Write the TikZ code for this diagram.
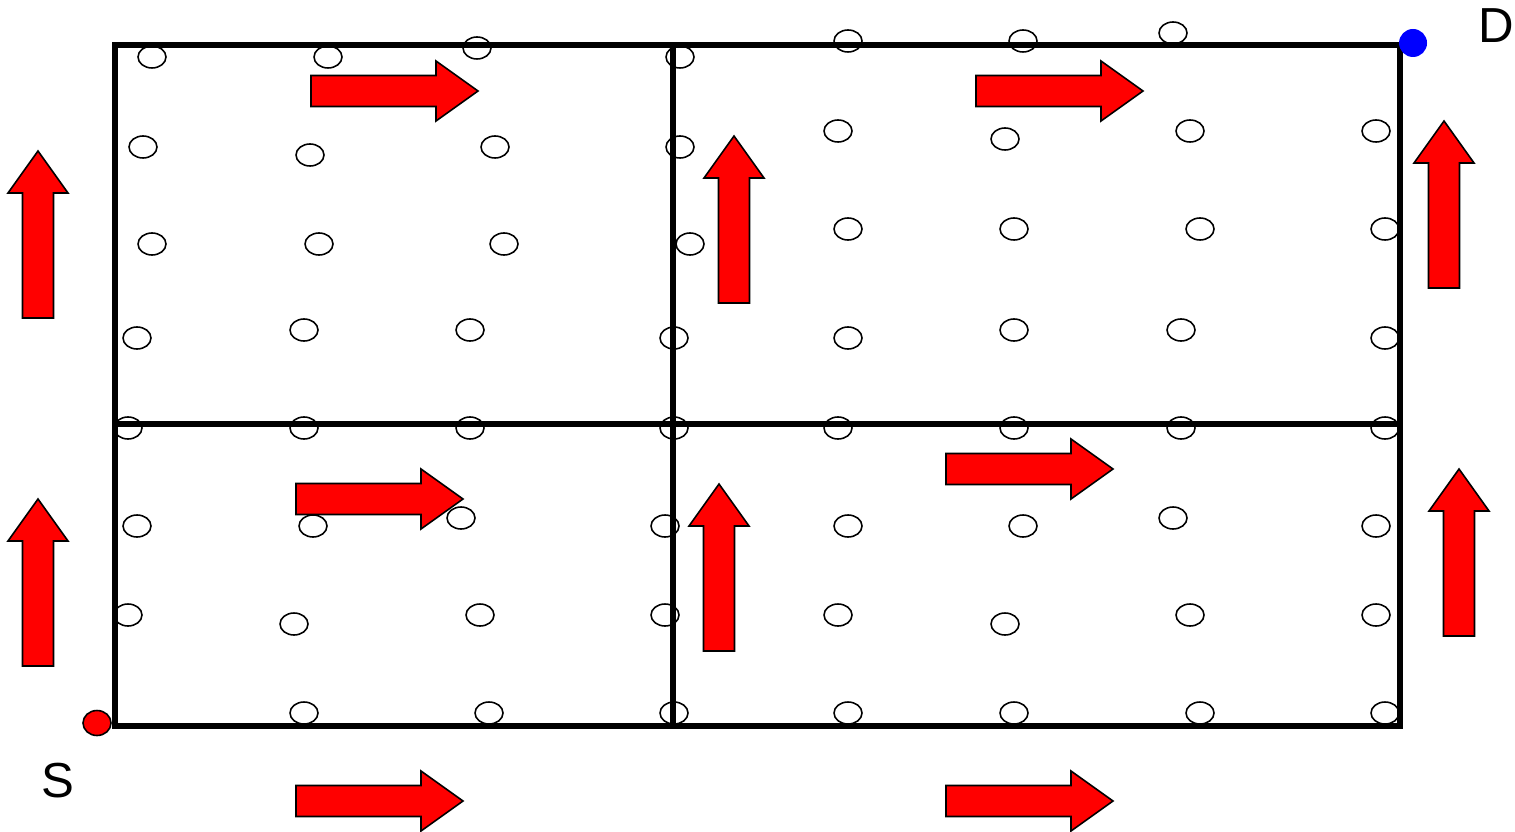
\documentclass[tikz,border=0pt]{standalone}
\usepackage{fontspec}
\setmainfont{Liberation Sans}
\usetikzlibrary{calc}

% block arrow pointing right, tail centre at #1, turned by #2
\newcommand{\blockarrow}[2]{%
  \draw[flow, shift={#1}, rotate=#2]
    (0,-15.5) -- (125,-15.5) -- (125,-30) -- (167,0) -- (125,30)
    -- (125,15.5) -- (0,15.5) -- cycle;}

\begin{document}
\begin{tikzpicture}[x=0.1mm, y=-0.1mm,
  wall/.style={line width=1.6pt, line cap=rect},
  sensor/.style={draw=black, line width=0.45pt},
  flow/.style={draw=black, fill=red, line width=0.45pt, line join=miter},
  lbl/.style={font=\fontsize{14}{16}\selectfont, inner sep=0pt}]
\useasboundingbox (0,0) rectangle (1515,831);

% grid of cells
\coordinate (sw) at (115,726);
\coordinate (ne) at (1400,45);
\coordinate (mid) at (673,424);
\draw[wall] (sw) rectangle (ne);
\draw[wall] (mid |- sw) -- (mid |- ne);
\draw[wall] (mid -| sw) -- (mid -| ne);

% sensor nodes
\foreach \x/\y in {152/57, 328/57, 477/48, 680/57, 848/41, 1023/41, 1173/33,
  143/147, 310/155, 495/147, 680/147, 838/131, 1005/139, 1190/131, 1376/131,
  152/244, 319/244, 504/244, 690/244, 848/229, 1014/229, 1200/229, 1385/229,
  137/338, 304/330, 470/330, 674/338, 848/338, 1014/330, 1181/330, 1385/338,
  128/428, 304/428, 470/428, 674/428, 838/428, 1014/428, 1181/428, 1385/428,
  137/526, 313/526, 461/518, 665/526, 848/526, 1023/526, 1173/518, 1376/526,
  128/615, 294/624, 480/615, 665/615, 838/615, 1005/624, 1190/615, 1376/615,
  304/713, 489/713, 674/713, 848/713, 1014/713, 1200/713, 1385/713}
  \draw[sensor] (\x,\y) ellipse [x radius=14, y radius=11];

% flow arrows
\foreach \x/\y in {311/91, 976/91, 296/499, 946/469, 296/801, 946/801}
  {\blockarrow{(\x,\y)}{0}}
\foreach \x/\y in {38/318, 38/666, 734/303, 719/651, 1444/288, 1459/636}
  {\blockarrow{(\x,\y)}{90}}

% source and destination
\fill[red, draw=black, line width=0.45pt] (97,723) ellipse [x radius=14, y radius=12.5];
\fill[blue] (1413,43) circle (14);
\node[lbl] (s) at (58,781) {S};
\node[lbl] (d) at (1496,26) {D};
\end{tikzpicture}
\end{document}
